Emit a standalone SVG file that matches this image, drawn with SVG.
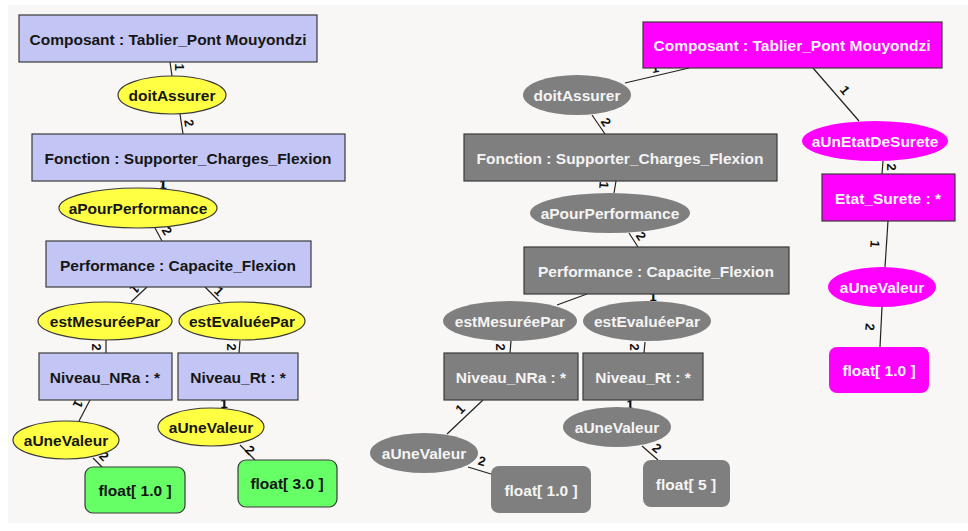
<svg xmlns="http://www.w3.org/2000/svg" width="968" height="531" viewBox="0 0 968 531">
<style>
text{font-family:"Liberation Sans",Arial,sans-serif;font-weight:bold;}
.t{font-size:15.5px;text-anchor:middle;dominant-baseline:central;}
.dk{fill:#161616;}
.lt{fill:#f4f4f4;}
.lb{font-size:13px;fill:#111;text-anchor:middle;dominant-baseline:central;}
.box1{fill:#c3c6f5;stroke:#3a3a3a;stroke-width:1.2;}
.ell1{fill:#ffff44;stroke:#3a3a3a;stroke-width:1.2;}
.grn{fill:#66ff66;stroke:#3a3a3a;stroke-width:1.2;}
.gb{fill:#7f7f7f;stroke:#3a3a3a;stroke-width:1.2;}
.ge{fill:#7f7f7f;}
.mb{fill:#ff00ff;stroke:#3a3a3a;stroke-width:1.2;}
.me{fill:#ff00ff;}
.ln{stroke:#222;stroke-width:1.2;fill:none;}
</style>
<rect x="0" y="0" width="968" height="531" fill="#ffffff"/>
<rect x="8" y="5" width="960" height="518" fill="#f8f7f5"/>

<g id="connectors">
<g class="ln">
<line x1="170" y1="62" x2="172" y2="76"/>
<line x1="180" y1="114" x2="183" y2="134"/>
<line x1="163" y1="181" x2="162" y2="188"/>
<line x1="155" y1="228" x2="162" y2="241"/>
<line x1="147" y1="287" x2="131" y2="302"/>
<line x1="205" y1="287" x2="220" y2="302"/>
<line x1="106" y1="340" x2="106" y2="353"/>
<line x1="240" y1="341" x2="239" y2="353"/>
<line x1="90" y1="400" x2="79" y2="421"/>
<line x1="224" y1="400" x2="224" y2="408"/>
<line x1="93" y1="458" x2="102" y2="467"/>
<line x1="240" y1="445" x2="255" y2="460"/>

<line x1="689" y1="68" x2="625" y2="83"/>
<line x1="592" y1="115" x2="605" y2="134"/>
<line x1="616" y1="181" x2="614" y2="193"/>
<line x1="629" y1="233" x2="638" y2="247"/>
<line x1="587" y1="294" x2="557" y2="305"/>
<line x1="653" y1="294" x2="653" y2="301"/>
<line x1="511" y1="341" x2="510" y2="353"/>
<line x1="645" y1="342" x2="644" y2="353"/>
<line x1="483" y1="400" x2="447" y2="434"/>
<line x1="468" y1="467" x2="491" y2="474"/>
<line x1="630" y1="400" x2="630" y2="407"/>
<line x1="642" y1="446" x2="658" y2="460"/>

<line x1="813" y1="68" x2="859" y2="121"/>
<line x1="883" y1="161" x2="882" y2="174"/>
<line x1="888" y1="221" x2="885" y2="267"/>
<line x1="882" y1="307" x2="880" y2="347"/>
</g>
<g>
<text class="lb" transform="translate(179,67) rotate(90)">1</text>
<text class="lb" transform="translate(189,123) rotate(80)">2</text>
<text class="lb" transform="translate(163,184) rotate(0)">1</text>
<text class="lb" transform="translate(167,231) rotate(60)">2</text>
<text class="lb" transform="translate(135,289) rotate(135)">1</text>
<text class="lb" transform="translate(219,291) rotate(45)">1</text>
<text class="lb" transform="translate(96,347) rotate(90)">2</text>
<text class="lb" transform="translate(231,347) rotate(90)">2</text>
<text class="lb" transform="translate(78,404) rotate(115)">1</text>
<text class="lb" transform="translate(224,403) rotate(0)">1</text>
<text class="lb" transform="translate(104,456) rotate(45)">2</text>
<text class="lb" transform="translate(250,450) rotate(45)">2</text>

<text class="lb" transform="translate(655,68) rotate(-13)">1</text>
<text class="lb" transform="translate(606,122) rotate(57)">2</text>
<text class="lb" transform="translate(604,185) rotate(95)">1</text>
<text class="lb" transform="translate(641,236) rotate(57)">2</text>
<text class="lb" transform="translate(570,289) rotate(-20)">1</text>
<text class="lb" transform="translate(653,296) rotate(0)">1</text>
<text class="lb" transform="translate(500,347) rotate(90)">2</text>
<text class="lb" transform="translate(634,347) rotate(90)">2</text>
<text class="lb" transform="translate(460,409) rotate(-45)">1</text>
<text class="lb" transform="translate(482,461) rotate(15)">2</text>
<text class="lb" transform="translate(630,404) rotate(0)">1</text>
<text class="lb" transform="translate(657,448) rotate(40)">2</text>

<text class="lb" transform="translate(845,90) rotate(50)">1</text>
<text class="lb" transform="translate(891,167) rotate(90)">2</text>
<text class="lb" transform="translate(875,244) rotate(95)">1</text>
<text class="lb" transform="translate(870,327) rotate(95)">2</text>
</g>
</g>

<!-- left column -->
<g id="l_composant"><rect class="box1" x="19" y="15" width="298" height="47"/><text class="t dk" x="168" y="39">Composant : Tablier_Pont Mouyondzi</text></g>
<g id="l_doitAssurer"><ellipse class="ell1" cx="172" cy="95" rx="54" ry="19"/><text class="t dk" x="172" y="95">doitAssurer</text></g>
<g id="l_fonction"><rect class="box1" x="32" y="134" width="313" height="47"/><text class="t dk" x="188" y="158">Fonction : Supporter_Charges_Flexion</text></g>
<g id="l_aPourPerformance"><ellipse class="ell1" cx="138" cy="208" rx="79" ry="20"/><text class="t dk" x="138" y="208">aPourPerformance</text></g>
<g id="l_performance"><rect class="box1" x="46" y="241" width="265" height="46"/><text class="t dk" x="178" y="265">Performance : Capacite_Flexion</text></g>
<g id="l_estMesureePar"><ellipse class="ell1" cx="105" cy="321" rx="67" ry="19"/><text class="t dk" x="105" y="321">estMesuréePar</text></g>
<g id="l_estEvalueePar"><ellipse class="ell1" cx="242" cy="321" rx="63" ry="19"/><text class="t dk" x="242" y="321">estEvaluéePar</text></g>
<g id="l_niveauNRa"><rect class="box1" x="39" y="353" width="133" height="47"/><text class="t dk" x="105" y="377">Niveau_NRa : *</text></g>
<g id="l_niveauRt"><rect class="box1" x="178" y="353" width="120" height="47"/><text class="t dk" x="238" y="377">Niveau_Rt : *</text></g>
<g id="l_aUneValeur1"><ellipse class="ell1" cx="66" cy="440" rx="53" ry="19"/><text class="t dk" x="66" y="440">aUneValeur</text></g>
<g id="l_aUneValeur2"><ellipse class="ell1" cx="211" cy="427" rx="53" ry="19"/><text class="t dk" x="211" y="427">aUneValeur</text></g>
<g id="l_float1"><rect class="grn" x="85" y="467" width="100" height="46" rx="8"/><text class="t dk" x="135" y="490">float[ 1.0 ]</text></g>
<g id="l_float2"><rect class="grn" x="238" y="460" width="99" height="47" rx="8"/><text class="t dk" x="287" y="483">float[ 3.0 ]</text></g>

<!-- right grey column -->
<g id="r_doitAssurer"><ellipse class="ge" cx="577" cy="95" rx="54" ry="20"/><text class="t lt" x="577" y="95">doitAssurer</text></g>
<g id="r_fonction"><rect class="gb" x="464" y="134" width="313" height="47"/><text class="t lt" x="620" y="158">Fonction : Supporter_Charges_Flexion</text></g>
<g id="r_aPourPerformance"><ellipse class="ge" cx="610" cy="213" rx="80" ry="20"/><text class="t lt" x="610" y="213">aPourPerformance</text></g>
<g id="r_performance"><rect class="gb" x="524" y="247" width="265" height="47"/><text class="t lt" x="656" y="271">Performance : Capacite_Flexion</text></g>
<g id="r_estMesureePar"><ellipse class="ge" cx="510" cy="321" rx="67" ry="20"/><text class="t lt" x="510" y="321">estMesuréePar</text></g>
<g id="r_estEvalueePar"><ellipse class="ge" cx="647" cy="321" rx="64" ry="20"/><text class="t lt" x="647" y="321">estEvaluéePar</text></g>
<g id="r_niveauNRa"><rect class="gb" x="444" y="353" width="134" height="47"/><text class="t lt" x="511" y="377">Niveau_NRa : *</text></g>
<g id="r_niveauRt"><rect class="gb" x="583" y="353" width="120" height="47"/><text class="t lt" x="643" y="377">Niveau_Rt : *</text></g>
<g id="r_aUneValeur1"><ellipse class="ge" cx="424" cy="453" rx="54" ry="20"/><text class="t lt" x="424" y="453">aUneValeur</text></g>
<g id="r_aUneValeur2"><ellipse class="ge" cx="617" cy="427" rx="54" ry="20"/><text class="t lt" x="617" y="427">aUneValeur</text></g>
<g id="r_float1"><rect class="ge" x="491" y="466" width="100" height="47" rx="8"/><text class="t lt" x="541" y="490">float[ 1.0 ]</text></g>
<g id="r_float2"><rect class="ge" x="643" y="460" width="87" height="47" rx="8"/><text class="t lt" x="686" y="484">float[ 5 ]</text></g>

<!-- magenta -->
<g id="m_composant"><rect class="mb" x="643" y="22" width="299" height="46"/><text class="t lt" x="792" y="45">Composant : Tablier_Pont Mouyondzi</text></g>
<g id="m_aUnEtatDeSurete"><ellipse class="me" cx="875" cy="141" rx="73" ry="20"/><text class="t lt" x="875" y="141">aUnEtatDeSurete</text></g>
<g id="m_etatSurete"><rect class="mb" x="822" y="174" width="133" height="47"/><text class="t lt" x="888" y="198">Etat_Surete : *</text></g>
<g id="m_aUneValeur"><ellipse class="me" cx="882" cy="287" rx="54" ry="20"/><text class="t lt" x="882" y="287">aUneValeur</text></g>
<g id="m_float"><rect class="me" x="829" y="347" width="100" height="46" rx="8"/><text class="t lt" x="879" y="370">float[ 1.0 ]</text></g>
</svg>
